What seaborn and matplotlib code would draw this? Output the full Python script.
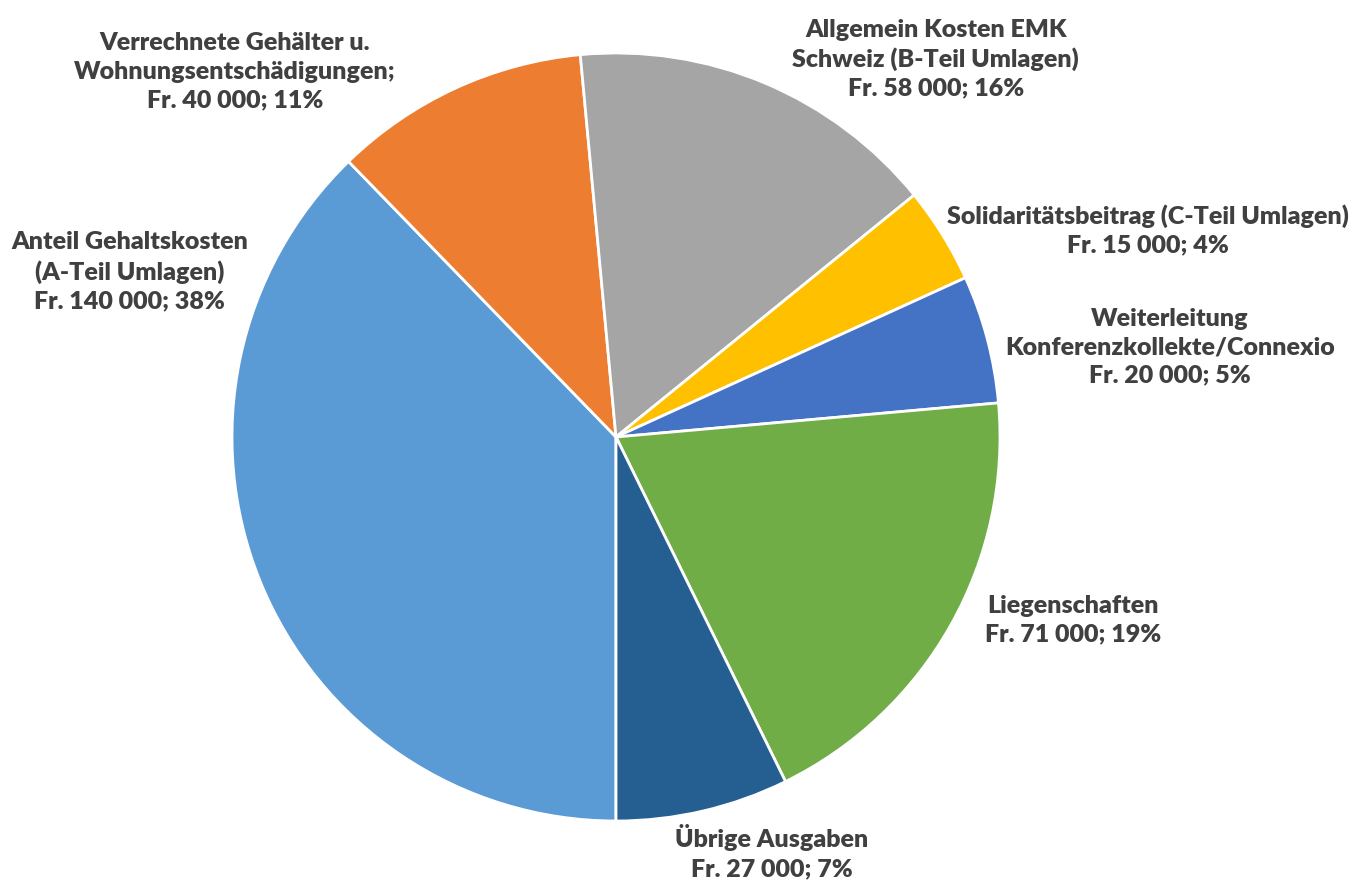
import matplotlib
matplotlib.use("Agg")
import matplotlib.pyplot as plt
import seaborn as sns

# ---- data ----
categories = [
    "Anteil Gehaltskosten\n(A-Teil Umlagen)",
    "Verrechnete Gehälter u.\nWohnungsentschädigungen;",
    "Allgemein Kosten EMK\nSchweiz (B-Teil Umlagen)",
    "Solidaritätsbeitrag (C-Teil Umlagen)",
    "Weiterleitung\nKonferenzkollekte/Connexio",
    "Liegenschaften",
    "Übrige Ausgaben",
]
values = [140000, 40000, 58000, 15000, 20000, 71000, 27000]
colors = ["#5B9BD5", "#ED7D31", "#A5A5A5", "#FFC000", "#4472C4", "#70AD47", "#255E91"]

# label anchor positions (layout, in pie-radius units from centre)
label_pos = [(-1.266, 0.430), (-0.992, 0.951), (0.833, 0.984), (1.385, 0.539),
             (1.443, 0.234), (1.190, -0.477), (0.406, -1.081)]

sns.set_theme(style="white")
plt.rcParams["font.family"] = ["Lato", "DejaVu Sans"]

W, H, DPI = 1353, 883, 100
fig = plt.figure(figsize=(W / DPI, H / DPI), dpi=DPI)
ax = fig.add_axes([0, 0, 1, 1])

cx, cy, r = 616, 437, 384
palette = sns.color_palette(colors)
wedges, _ = ax.pie(values, colors=palette, startangle=270, counterclock=False,
                   radius=1.0, wedgeprops=dict(edgecolor="white", linewidth=2))

total = sum(values)
for cat, v, (lx, ly) in zip(categories, values, label_pos):
    fmt = f"{v:,}".replace(",", " ")
    pct = round(100 * v / total)
    txt = f"{cat}\nFr. {fmt}; {pct}%"
    ax.text(lx, ly, txt, ha="center", va="center", fontsize=18, fontweight="heavy",
            color="#404040", linespacing=1.36)

ax.set_xlim(-cx / r, (W - cx) / r)
ax.set_ylim(-(H - cy) / r, cy / r)
ax.set_aspect("auto")
ax.axis("off")
fig.savefig("out.png", dpi=DPI, facecolor="white")
